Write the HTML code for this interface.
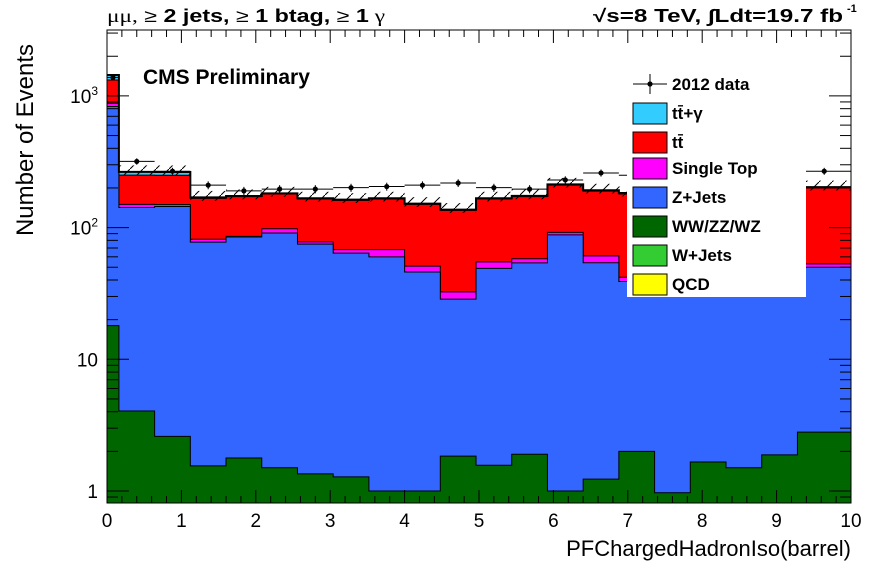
<!DOCTYPE html>
<html><head><meta charset="utf-8"><style>
html,body{margin:0;padding:0;background:#fff;}
svg{display:block;font-family:"Liberation Sans",sans-serif;}
</style></head><body>
<svg id="chart" width="896" height="572" viewBox="0 0 896 572" xmlns="http://www.w3.org/2000/svg">
<defs>
<pattern id="hatch" patternUnits="userSpaceOnUse" width="13" height="13">
<path d="M0,13 L13,0" stroke="#000" stroke-width="1"/>
</pattern>
</defs>
<g id="plot"></g>
<text x="107" y="22" font-size="18" textLength="278" lengthAdjust="spacingAndGlyphs"><tspan font-family="Liberation Serif">μμ,</tspan> <tspan>≥</tspan> <tspan font-weight="bold">2 jets,</tspan> ≥ <tspan font-weight="bold">1 btag,</tspan> ≥ <tspan font-weight="bold">1</tspan><tspan font-family="Liberation Serif"> γ</tspan></text>
<text x="593" y="22" font-size="18" font-weight="bold" textLength="250" lengthAdjust="spacingAndGlyphs">√s=8 TeV,   ∫Ldt=19.7 fb</text>
<text x="847" y="12" font-size="11" font-weight="bold">-1</text>
<text x="143" y="84" font-size="21" font-weight="bold">CMS Preliminary</text>
<text transform="translate(33,140) rotate(-90)" text-anchor="middle" font-size="24">Number of Events</text>
<text x="851" y="556" text-anchor="end" font-size="22">PFChargedHadronIso(barrel)</text>
</svg>
<script>
const binEdges = [0,0.16,0.64,1.12,1.6,2.08,2.56,3.04,3.52,4.0,4.48,4.96,5.44,5.92,6.4,6.88,7.36,7.84,8.32,8.8,9.28,10];
const qcd   = [0,0,0,0,0,0,0,0,0,0,0,0,0,0,0,0,0,0,0,0,0];
const wjets = [0,0,0,0,0,0,0,0,0,0,0,0,0,0,0,0,0,0,0,0,0];
const dibos = [18,4.05,2.6,1.55,1.78,1.5,1.35,1.28,1.0,1.0,1.84,1.57,1.9,1.0,1.23,2.0,0.97,1.66,1.5,1.88,2.8];
const zjets = [812,138,142,76,83,89.5,73.6,62.7,59,45,26.8,47.4,52.1,87,52.8,37,41,43.3,43.5,46.1,47.2];
const stop  = [50,8,5,4,1,7,3,4,8,5,3.9,6,4,4,7,3,4,4,4,4,3];
const ttbar = [440,100,100,85,86,82,87,93,97,99,102.5,110,114,118,128,138,139,136,141,138,147];
const ttg   = [120,15,15,3,2,2,2,2,2,2,2,2,2,3,3,3,3,3,3,3,3];
const dataCounts = [1380,318,268,210,190,196,196,201,205,210,218,201,196,230,260,250,235,225,215,225,268];
const xTickLabels = ["0","1","2","3","4","5","6","7","8","9","10"];
const yTickValues = [1,10,100,1000];
const yTickLabels = ["1","10","10²","10³"];

const L=107,R=851,T=30,B=503;
const X = v => L + (v-0)/(10-0)*(R-L);
const Y = v => 491 - 131.7*Math.log10(Math.max(v,0.5));
const NS="http://www.w3.org/2000/svg";
const plot=document.getElementById('plot');
function mk(tag,attrs,parent){const e=document.createElementNS(NS,tag);for(const k in attrs)e.setAttribute(k,attrs[k]);(parent||plot).appendChild(e);return e;}

const series=[
 {name:'qcd',vals:qcd,color:'#ffff00'},
 {name:'wjets',vals:wjets,color:'#33cc33'},
 {name:'dibosons',vals:dibos,color:'#006600'},
 {name:'zjets',vals:zjets,color:'#3366ff'},
 {name:'single-top',vals:stop,color:'#ff00ff'},
 {name:'ttbar',vals:ttbar,color:'#ff0000'},
 {name:'ttgamma',vals:ttg,color:'#33ccff'}
];
const n=binEdges.length-1;
const cum=new Array(n).fill(0);
const tops=[];
series.forEach(s=>{
  const t=[];for(let i=0;i<n;i++){cum[i]+=s.vals[i];t.push(cum[i]);}
  tops.push(t);
});
for(let si=series.length-1;si>=0;si--){
  const s=series[si];
  if(s.vals.every(v=>v===0))continue;
  const t=tops[si];
  let d='M'+X(binEdges[0])+','+B;
  for(let i=0;i<n;i++){d+=' L'+X(binEdges[i])+','+Y(t[i])+' L'+X(binEdges[i+1])+','+Y(t[i]);}
  d+=' L'+X(binEdges[n])+','+B+' Z';
  const p=mk('path',{d:d,fill:s.color,stroke:'#000','stroke-width':1});
  
  
}
const total=tops[tops.length-1];
let dT='';
for(let i=0;i<n;i++){dT+=(i?' L':'M')+X(binEdges[i])+','+Y(total[i])+' L'+X(binEdges[i+1])+','+Y(total[i]);}
const tl=mk('path',{d:dT,fill:'none',stroke:'#000','stroke-width':2});


for(let i=1;i<n;i++){
  const y1=Y(total[i]*1.12),y2=Y(total[i]/1.06);
  const r=mk('rect',{x:X(binEdges[i]),y:y1,width:X(binEdges[i+1])-X(binEdges[i]),height:y2-y1,fill:'url(#hatch)'});
  
  
}
for(let i=0;i<n;i++){
  const cx=(X(binEdges[i])+X(binEdges[i+1]))/2, cy=Y(dataCounts[i]);
  const g=mk('g',{});
  
  
  mk('line',{x1:X(binEdges[i]),x2:X(binEdges[i+1]),y1:cy,y2:cy,stroke:'#000','stroke-width':1},g);
  const e=Math.sqrt(dataCounts[i]);
  mk('line',{x1:cx,x2:cx,y1:Y(dataCounts[i]+e),y2:Y(dataCounts[i]-e),stroke:'#000','stroke-width':1},g);
  mk('circle',{cx:cx,cy:cy,r:2.6,fill:'#000'},g);
}
const fr=mk('rect',{x:L,y:T,width:R-L,height:B-T,fill:'none',stroke:'#000','stroke-width':1});


for(let k=0;k<=50;k++){
  const v=k*0.2,x=X(v),len=(k%5===0)?13:7;
  mk('line',{x1:x,x2:x,y1:B,y2:B-len,stroke:'#000'});
  mk('line',{x1:x,x2:x,y1:T,y2:T+len,stroke:'#000'});
}
xTickLabels.forEach((lab,i)=>{
  const t=mk('text',{x:X(i),y:527,'text-anchor':'middle','font-size':19});
  t.textContent=lab;
  
  
});
for(let dec=-1;dec<=3;dec++){
  for(let m=1;m<=9;m++){
    const v=m*Math.pow(10,dec),y=Y(v);
    if(y<T||y>B)continue;
    const len=m===1?22:11;
    mk('line',{x1:L,x2:L+len,y1:y,y2:y,stroke:'#000'});
    mk('line',{x1:R,x2:R-len,y1:y,y2:y,stroke:'#000'});
  }
}
yTickValues.forEach((v,i)=>{
  const lab=yTickLabels[i];
  const t=mk('text',{x:98,y:Y(v)+7,'text-anchor':'end','font-size':19});
  if(lab.length>2){t.textContent='10';const s=mk('tspan',{dy:-8,'font-size':12},t);s.textContent=lab==='10²'?'2':'3';}
  else t.textContent=lab;
  
  
});
const lg=mk('g',{});


mk('rect',{x:627,y:68,width:179,height:229,fill:'#fff'},lg);
const entries=[['2012 data',null],['tt̄+γ','#33ccff'],['tt̄','#ff0000'],['Single Top','#ff00ff'],['Z+Jets','#3366ff'],['WW/ZZ/WZ','#006600'],['W+Jets','#33cc33'],['QCD','#ffff00']];
const ey=[84,113,142,168,197,226,255,284];
entries.forEach((e,i)=>{
  const g=mk('g',{},lg);
  
  
  const y=ey[i];
  if(e[1]){mk('rect',{x:633,y:y-10,width:34,height:21,fill:e[1],stroke:'#000'},g);}
  else{mk('line',{x1:633,x2:667,y1:y,y2:y,stroke:'#000'},g);mk('line',{x1:650,x2:650,y1:y-10,y2:y+10,stroke:'#000'},g);mk('circle',{cx:650,cy:y,r:2.6},g);}
  const t=mk('text',{x:672,y:y+6,'font-size':17,'font-weight':'bold'},g);
  t.textContent=e[0];
});
</script>
</body></html>
